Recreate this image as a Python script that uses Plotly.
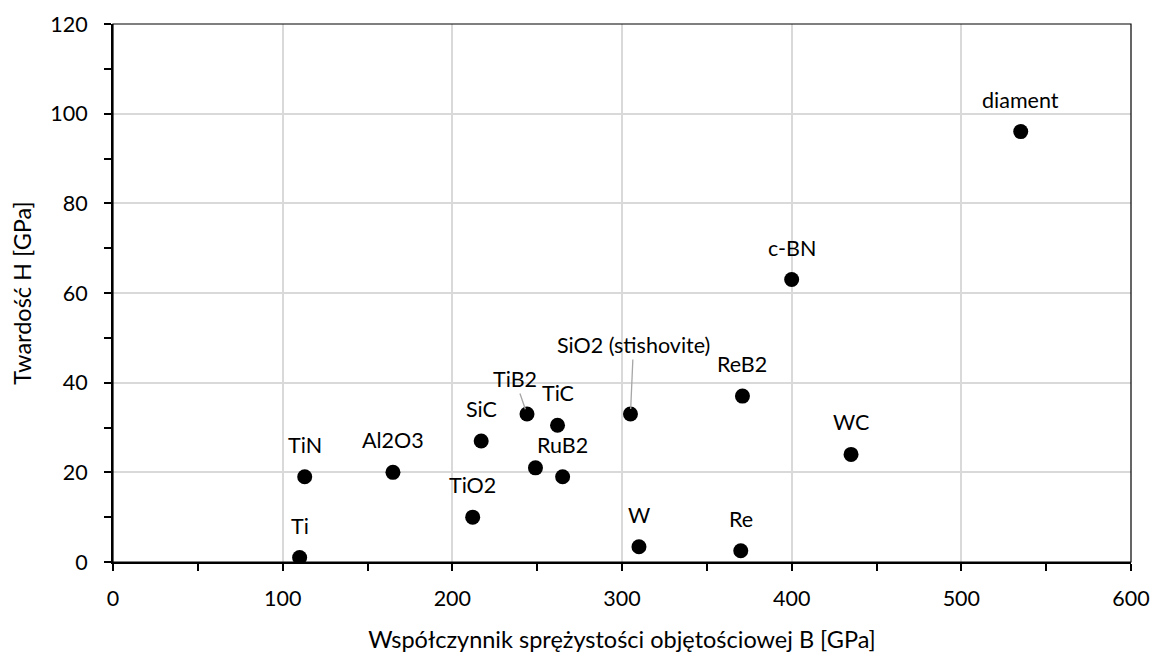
import plotly.graph_objects as go

materials = ["Ti", "TiN", "Al2O3", "SiC", "TiO2", "TiB2", "TiC", "", "RuB2",
             "SiO2 (stishovite)", "W", "Re", "ReB2", "WC", "c-BN", "diament"]
bulk_modulus = [110, 113, 165, 217, 212, 244, 262, 249, 265, 305, 310, 370, 371, 435, 400, 535]
hardness = [1, 19, 20, 27, 10, 33, 30.5, 21, 19, 33, 3.4, 2.5, 37, 24, 63, 96]

x_title = "Współczynnik sprężystości objętościowej B [GPa]"
y_title = "Twardość H [GPa]"

FONT = "Lato"
LABEL_SIZE = 21.5
# callout labels with leader lines: (dx, dy) pixel offsets of the label from the point
callouts = {"TiB2": (-12, -35), "SiO2 (stishovite)": (3, -69)}

fig = go.Figure()
fig.add_trace(go.Scatter(
    x=bulk_modulus, y=hardness, mode="markers",
    marker=dict(size=15, color="black"),
    hoverinfo="skip", showlegend=False,
))

annotations = []
for name, xv, yv in zip(materials, bulk_modulus, hardness):
    if not name:
        continue
    if name in callouts:
        dx, dy = callouts[name]
        annotations.append(dict(
            x=xv, y=yv, xref="x", yref="y", text=name, showarrow=True,
            arrowhead=0, arrowwidth=1.3, arrowcolor="#a6a6a6", ax=dx, ay=dy,
            standoff=5, font=dict(family=FONT, size=LABEL_SIZE, color="black"),
        ))
    else:
        annotations.append(dict(
            x=xv, y=yv, xref="x", yref="y", text=name, showarrow=False,
            yshift=32, font=dict(family=FONT, size=LABEL_SIZE, color="black"),
        ))

fig.update_layout(
    width=1154, height=653,
    margin=dict(l=113, r=23, t=24, b=91),
    paper_bgcolor="white", plot_bgcolor="white",
    font=dict(family=FONT, color="black"),
    annotations=annotations,
    shapes=[dict(type="rect", xref="paper", yref="paper", x0=0, y0=0, x1=1, y1=1,
                 line=dict(color="black", width=1.2), layer="above")],
)
fig.update_xaxes(
    range=[0, 600], dtick=100, tick0=0, automargin=False,
    showgrid=True, gridcolor="#d9d9d9", gridwidth=1.5,
    showline=True, linecolor="black", linewidth=2,
    ticks="outside", ticklen=7, tickwidth=1.5, tickcolor="black",
    minor=dict(dtick=50, ticks="outside", ticklen=7, tickwidth=1.5, tickcolor="black", showgrid=False),
    ticklabelstandoff=9,
    tickfont=dict(family=FONT, size=21.5, color="black"),
    title=dict(text=x_title, font=dict(family=FONT, size=23.5, color="black"), standoff=23),
    zeroline=False, fixedrange=True,
)
fig.update_yaxes(
    range=[0, 120], dtick=20, tick0=0, automargin=False,
    showgrid=True, gridcolor="#d9d9d9", gridwidth=1.5,
    showline=True, linecolor="black", linewidth=2,
    ticks="outside", ticklen=7, tickwidth=1.5, tickcolor="black",
    minor=dict(dtick=10, ticks="outside", ticklen=7, tickwidth=1.5, tickcolor="black", showgrid=False),
    ticklabelstandoff=12,
    tickfont=dict(family=FONT, size=21.5, color="black"),
    title=dict(text=y_title, font=dict(family=FONT, size=23.5, color="black"), standoff=12),
    zeroline=False, fixedrange=True,
)

fig.write_html("out.html")
